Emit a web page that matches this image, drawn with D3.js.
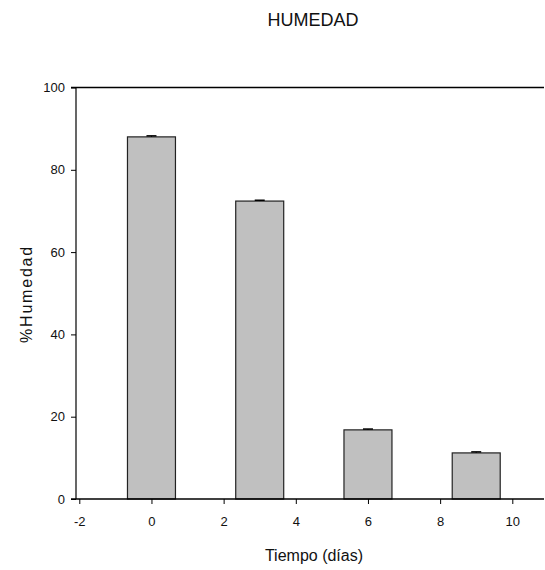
<!DOCTYPE html>
<html>
<head>
<meta charset="utf-8">
<script src="https://cdn.jsdelivr.net/npm/d3@7"></script>
<style>
  body { margin: 0; background: #fff; }
  svg text { font-family: 'Liberation Sans', Arial, sans-serif; fill: #111; }
</style>
</head>
<body>
<svg id="chart" width="545" height="570"></svg>
<script>
// data
const dias = [0, 3, 6, 9]
const humedad = [88.0, 72.4, 16.8, 11.2]
const errores = [0.25, 0.2, 0.2, 0.25]
const xTicks = [-2, 0, 2, 4, 6, 8, 10]
const yTicks = [0, 20, 40, 60, 80, 100]
const barWidth = 1.33 // in days

const svg = d3.select('#chart')

const x = d3.scaleLinear().domain([-2, 10]).range([79.3, 512.3])
const y = d3.scaleLinear().domain([0, 100]).range([499, 87.5])

const left = 76, right = 544

// bars
svg.selectAll('.bar').data(dias)
  .enter().append('rect')
  .attr('class', 'bar')
  .attr('x', (d, i) => x(d - barWidth / 2))
  .attr('width', x(barWidth) - x(0))
  .attr('y', (d, i) => y(humedad[i]))
  .attr('height', (d, i) => y(0) - y(humedad[i]))
  .attr('fill', '#c0c0c0')
  .attr('stroke', '#222')
  .attr('stroke-width', 1.2)

// error bars (tiny)
const err = svg.append('g')
dias.forEach((d, i) => {
  const cx = x(d)
  err.append('line')
    .attr('x1', cx).attr('x2', cx)
    .attr('y1', y(humedad[i] + errores[i])).attr('y2', y(humedad[i]))
    .attr('stroke', '#000').attr('stroke-width', 1)
  err.append('line')
    .attr('x1', cx - 5).attr('x2', cx + 5)
    .attr('y1', y(humedad[i] + errores[i])).attr('y2', y(humedad[i] + errores[i]))
    .attr('stroke', '#000').attr('stroke-width', 1.5)
})

// x axis
const xAxis = svg.append('g')
  .attr('transform', `translate(0,${y(0)})`)
  .call(d3.axisBottom(x).tickValues(xTicks).tickFormat(d => String(d))
    .tickSize(5).tickPadding(13).tickSizeOuter(0))
xAxis.select('.domain').remove()
xAxis.selectAll('text').style('font-size', '13px').attr('fill', '#111')

// y axis
const yAxis = svg.append('g')
  .attr('transform', `translate(${left},0)`)
  .call(d3.axisLeft(y).tickValues(yTicks).tickSize(5).tickPadding(6).tickSizeOuter(0))
yAxis.select('.domain').remove()
yAxis.selectAll('text').style('font-size', '13px').attr('fill', '#111')

// frame lines
svg.append('line')
  .attr('x1', left).attr('x2', left).attr('y1', y(100)).attr('y2', y(0))
  .attr('stroke', '#000').attr('stroke-width', 1.2)
svg.append('line')
  .attr('x1', left - 5).attr('x2', right).attr('y1', y(0)).attr('y2', y(0))
  .attr('stroke', '#000').attr('stroke-width', 1.5)
svg.append('line')
  .attr('x1', left - 5).attr('x2', right).attr('y1', y(100)).attr('y2', y(100))
  .attr('stroke', '#000').attr('stroke-width', 1.5)

// titles
svg.append('text')
  .attr('x', 313).attr('y', 26)
  .attr('text-anchor', 'middle')
  .style('font-size', '18px')
  .text('HUMEDAD')

svg.append('text')
  .attr('x', 314).attr('y', 561)
  .attr('text-anchor', 'middle')
  .style('font-size', '16px')
  .text('Tiempo (días)')

svg.append('text')
  .attr('transform', 'translate(32,294) rotate(-90)')
  .attr('text-anchor', 'middle')
  .style('font-size', '16px')
  .style('letter-spacing', '1.8px')
  .text('%Humedad')
</script>
</body>
</html>
